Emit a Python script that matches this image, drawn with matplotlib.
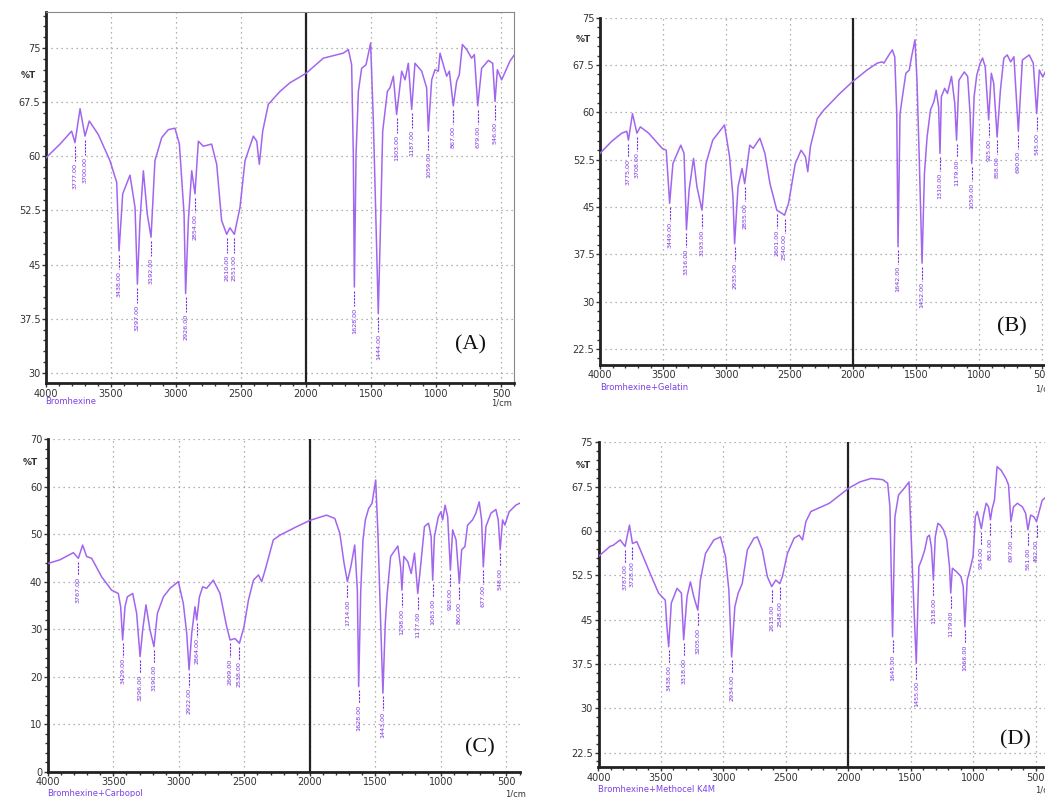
import numpy as np
import matplotlib.pyplot as plt
from matplotlib.ticker import MultipleLocator

# ---- data (wavenumber 1/cm, %T) ----
wn_a = [4000, 3892, 3803, 3777, 3738, 3700, 3667, 3597, 3508, 3456, 3438, 3410, 3354, 3315, 3297, 3277,
        3251, 3221, 3192, 3162, 3110, 3059, 3008, 2974, 2938, 2926, 2905, 2879, 2854, 2828, 2790, 2726,
        2687, 2649, 2610, 2585, 2551, 2508, 2469, 2405, 2379, 2359, 2333, 2290, 2200, 2123, 2000, 1867,
        1713, 1674, 1649, 1636, 1628, 1615, 1597, 1572, 1538, 1503, 1482, 1462, 1444, 1426, 1410, 1374,
        1354, 1328, 1303, 1264, 1238, 1213, 1187, 1162, 1110, 1072, 1059, 1033, 1008, 982, 969, 944,
        918, 897, 867, 841, 821, 797, 764, 726, 705, 679, 649, 597, 564, 546, 528, 495, 431, 400]
t_a = [59.8, 61.7, 63.5, 61.9, 66.6, 62.8, 64.9, 63.0, 59.4, 56.4, 46.9, 54.8, 57.4, 52.9, 42.3, 51.1,
       58.0, 52.0, 48.8, 59.4, 62.6, 63.7, 63.9, 61.7, 52.0, 41.0, 51.1, 58.0, 54.8, 62.1, 61.4, 61.7,
       58.9, 51.1, 49.2, 50.1, 49.2, 52.9, 59.4, 62.8, 62.1, 58.9, 63.5, 67.2, 69.0, 70.2, 71.5, 73.6,
       74.3, 74.8, 72.7, 60.3, 41.9, 60.3, 69.0, 72.2, 72.7, 75.7, 64.9, 51.1, 38.2, 51.1, 63.5, 69.0,
       69.5, 71.1, 65.8, 71.8, 70.6, 72.9, 66.5, 72.9, 71.8, 69.5, 63.5, 70.6, 72.0, 71.8, 74.3, 72.7,
       71.1, 71.8, 67.0, 70.4, 71.3, 75.5, 74.8, 73.6, 74.1, 67.0, 72.2, 73.3, 72.9, 67.6, 72.0, 70.6, 73.2, 74.0]
peaks_a = [3777, 3700, 3438, 3297, 3192, 2926, 2854, 2610, 2551, 1628, 1444, 1303, 1187, 1059, 867, 679, 546]

wn_b = [4000, 3908, 3828, 3788, 3775, 3743, 3708, 3681, 3615, 3508, 3476, 3449, 3423, 3361, 3335, 3316,
        3295, 3260, 3233, 3193, 3161, 3108, 3015, 2975, 2948, 2935, 2908, 2876, 2855, 2815, 2788, 2735,
        2695, 2655, 2601, 2561, 2540, 2508, 2455, 2409, 2375, 2356, 2335, 2281, 2228, 2102, 2000, 1888,
        1807, 1767, 1754, 1714, 1687, 1668, 1652, 1642, 1626, 1607, 1580, 1553, 1535, 1508, 1492, 1473,
        1452, 1433, 1412, 1385, 1358, 1340, 1321, 1310, 1299, 1273, 1251, 1219, 1193, 1179, 1160, 1118,
        1091, 1072, 1059, 1040, 1019, 992, 973, 952, 925, 904, 885, 858, 832, 805, 778, 751, 725, 690,
        658, 604, 572, 545, 524, 497, 457, 400]
t_b = [53.5, 55.4, 56.7, 57.0, 55.6, 59.8, 56.7, 57.7, 56.7, 54.3, 54.0, 45.6, 51.9, 54.8, 53.5, 41.4,
       47.7, 52.7, 48.2, 44.5, 51.9, 55.6, 58.0, 53.0, 46.6, 39.2, 48.2, 51.1, 48.7, 54.8, 54.3, 55.9,
       53.5, 48.7, 44.5, 44.0, 43.7, 45.6, 51.9, 54.0, 53.0, 50.6, 54.6, 59.0, 60.4, 63.0, 64.9, 66.7,
       67.8, 68.0, 67.8, 69.1, 69.9, 68.8, 59.8, 38.7, 59.8, 62.5, 66.2, 66.7, 68.8, 71.5, 65.1, 51.9,
       36.1, 50.3, 56.1, 60.4, 61.7, 63.5, 60.9, 53.5, 62.5, 63.8, 63.0, 65.7, 61.4, 55.6, 65.1, 66.4,
       65.7, 59.8, 51.9, 62.5, 65.9, 67.8, 68.6, 67.2, 58.8, 66.2, 64.6, 56.1, 63.5, 68.6, 69.1, 68.0, 68.8, 57.0,
       68.3, 69.1, 67.8, 59.8, 66.7, 65.6, 67.2, 68.0]
peaks_b = [3775, 3708, 3449, 3316, 3193, 2935, 2855, 2601, 2540, 1642, 1452, 1310, 1179, 1059, 925, 858, 690, 545]

wn_c = [4000, 3907, 3805, 3767, 3734, 3704, 3665, 3589, 3513, 3462, 3444, 3429, 3411, 3393, 3352, 3322,
        3296, 3276, 3251, 3220, 3190, 3164, 3118, 3067, 3004, 2966, 2940, 2922, 2902, 2877, 2864, 2843,
        2818, 2788, 2737, 2686, 2635, 2609, 2571, 2538, 2503, 2469, 2431, 2393, 2368, 2342, 2279, 2228,
        2114, 2000, 1873, 1810, 1772, 1739, 1714, 1688, 1658, 1638, 1628, 1612, 1595, 1577, 1552, 1526,
        1498, 1481, 1460, 1443, 1425, 1410, 1384, 1359, 1329, 1308, 1298, 1283, 1253, 1227, 1202, 1177,
        1156, 1126, 1095, 1075, 1063, 1050, 1020, 1000, 987, 969, 949, 928, 911, 885, 860, 842, 817, 797,
        759, 734, 708, 690, 677, 657, 619, 581, 563, 548, 530, 513, 480, 429, 400]
t_c = [43.8, 44.6, 46.1, 44.9, 47.7, 45.3, 44.9, 41.0, 38.2, 37.5, 34.7, 27.7, 34.7, 36.8, 37.5, 33.3,
       24.2, 29.8, 35.1, 29.8, 26.3, 33.3, 36.8, 38.6, 40.0, 35.4, 29.1, 21.4, 29.1, 34.7, 31.9, 36.8,
       38.9, 38.6, 40.3, 37.5, 30.5, 27.7, 28.0, 27.0, 30.5, 36.1, 40.3, 41.4, 40.0, 42.4, 48.8, 49.8,
       51.4, 52.9, 54.0, 53.3, 50.2, 43.8, 40.0, 43.1, 47.7, 38.2, 17.9, 38.2, 48.8, 53.0, 55.4, 56.5,
       61.4, 50.2, 31.2, 16.5, 31.2, 37.5, 45.3, 46.3, 47.5, 43.1, 38.2, 45.3, 44.2, 41.7, 46.0, 37.5,
       43.1, 51.6, 52.3, 49.5, 40.3, 49.5, 53.7, 54.7, 53.0, 56.1, 53.7, 42.4, 50.9, 48.8, 39.6, 46.7, 47.4, 51.9,
       53.0, 54.4, 56.8, 53.0, 43.1, 51.6, 54.4, 55.2, 53.0, 46.7, 53.0, 51.9, 54.7, 56.1, 56.5]
peaks_c = [3767, 3429, 3296, 3190, 2922, 2864, 2609, 2538, 1714, 1628, 1443, 1298, 1177, 1063, 928, 860, 677, 548]

wn_d = [4000, 3908, 3881, 3827, 3787, 3752, 3728, 3693, 3653, 3586, 3519, 3465, 3452, 3438, 3417, 3371,
        3336, 3318, 3291, 3264, 3237, 3205, 3184, 3143, 3076, 3023, 2983, 2956, 2934, 2908, 2881, 2849,
        2808, 2755, 2728, 2688, 2648, 2613, 2580, 2548, 2527, 2487, 2433, 2393, 2366, 2339, 2299, 2151,
        2066, 2000, 1908, 1816, 1724, 1684, 1666, 1645, 1626, 1597, 1553, 1513, 1500, 1474, 1455, 1434,
        1413, 1387, 1366, 1350, 1334, 1318, 1303, 1282, 1263, 1237, 1211, 1189, 1179, 1166, 1132, 1097,
        1079, 1066, 1047, 1026, 1000, 982, 966, 947, 934, 916, 895, 876, 861, 847, 829, 808, 776, 737,
        716, 697, 676, 645, 605, 579, 561, 539, 513, 492, 447, 400]
t_d = [55.7, 57.4, 57.6, 58.5, 57.4, 61.0, 57.9, 58.2, 56.2, 52.8, 49.5, 48.3, 43.8, 40.4, 47.8, 50.3,
       49.5, 41.6, 48.9, 51.4, 48.9, 46.6, 51.7, 56.2, 58.5, 59.0, 55.7, 50.0, 38.7, 47.2, 49.5, 51.1,
       56.8, 58.8, 59.0, 56.8, 52.3, 50.6, 51.7, 51.1, 52.3, 56.2, 58.8, 59.3, 58.5, 61.6, 63.3, 64.7,
       66.1, 67.2, 68.3, 68.9, 68.7, 68.1, 64.1, 42.1, 62.4, 66.1, 67.2, 68.3, 61.3, 47.2, 37.6, 54.0,
       55.1, 56.8, 59.0, 59.3, 57.3, 51.7, 59.0, 61.3, 61.0, 60.2, 58.5, 54.0, 49.5, 53.7, 53.1, 52.3,
       50.6, 43.8, 51.7, 53.4, 55.7, 62.4, 63.3, 61.6, 60.4, 62.7, 64.7, 64.1, 61.9, 63.8, 65.2, 70.9, 70.3, 68.9,
       67.8, 61.6, 64.1, 64.7, 64.1, 63.0, 60.2, 62.7, 62.4, 61.6, 65.2, 66.0]
peaks_d = [3787, 3728, 3438, 3318, 3205, 2934, 2613, 2548, 1645, 1455, 1318, 1179, 1066, 934, 861, 697, 561, 492]

names = ["Bromhexine", "Bromhexine+Gelatin", "Bromhexine+Carbopol", "Bromhexine+Methocel K4M"]
tags = ["(A)", "(B)", "(C)", "(D)"]

W, H = 1045, 797
fig = plt.figure(figsize=(W / 100, H / 100), dpi=100, facecolor="white")


def px(x, y):
    return x / W, 1 - y / H


def box(x0, y0, x1, y1):
    return [x0 / W, 1 - y1 / H, (x1 - x0) / W, (y1 - y0) / H]


line_col = "#a266ee"
lab_col = "#7a2ee0"

panels = [
    dict(wn=wn_a, t=t_a, pk=peaks_a, rect=box(46, 12, 514, 383), ylim=(28.6, 80),
         yt=[30, 37.5, 45, 52.5, 60, 67.5, 75], ymin=1.5, pT=(28, 76), name=(45, 402),
         cm=(491, 403), tag=(470, 345), frame=True),
    dict(wn=wn_b, t=t_b, pk=peaks_b, rect=box(600, 17.7, 1055, 364.8), ylim=(20, 75),
         yt=[22.5, 30, 37.5, 45, 52.5, 60, 67.5, 75], ymin=1.5, pT=(583, 40), name=(600, 388),
         cm=(1035, 389), tag=(1012, 327), frame=False),
    dict(wn=wn_c, t=t_c, pk=peaks_c, rect=box(47.8, 439.2, 519.6, 771.5), ylim=(0, 70),
         yt=[0, 10, 20, 30, 40, 50, 60, 70], ymin=2, pT=(30, 463), name=(47, 793),
         cm=(505, 794), tag=(480, 748), frame=False),
    dict(wn=wn_d, t=t_d, pk=peaks_d, rect=box(598.5, 442.4, 1048, 767.4), ylim=(20, 75),
         yt=[22.5, 30, 37.5, 45, 52.5, 60, 67.5, 75], ymin=1.5, pT=(583, 465), name=(598, 789),
         cm=(1035, 790), tag=(1015, 740), frame=False),
]

for p, name, tag in zip(panels, names, tags):
    ax = fig.add_axes(p["rect"])
    ax.set_xlim(4000, 400)
    ax.set_ylim(*p["ylim"])
    ax.plot(p["wn"], p["t"], color=line_col, lw=1.1, zorder=3)
    ax.axvline(2000, color="#222222", lw=1.6, zorder=2)

    # peak labels below each marked band
    span = p["ylim"][1] - p["ylim"][0]
    for v in p["pk"]:
        tv = np.interp(v, p["wn"][::-1], p["t"][::-1])
        ax.plot([v, v], [tv - 0.01 * span, tv - 0.05 * span], color=lab_col, lw=0.8,
                ls=(0, (2, 1)), zorder=4)
        ax.text(v, tv - 0.055 * span, f"{v:.2f}", rotation=90, ha="center", va="top",
                fontsize=4.6, color=lab_col, zorder=4)

    ax.set_xticks([4000, 3500, 3000, 2500, 2000, 1500, 1000, 500])
    ax.xaxis.set_minor_locator(MultipleLocator(100))
    ax.set_yticks(p["yt"])
    ax.set_yticklabels([f"{v:g}" for v in p["yt"]])
    ax.yaxis.set_minor_locator(MultipleLocator(p["ymin"]))
    ax.grid(which="major", ls=(0, (1, 3)), color="#9a9a9a", lw=0.9)
    ax.tick_params(which="major", length=3, width=1, labelsize=7, colors="#333333", pad=1)
    ax.tick_params(which="minor", length=2, width=1, color="#333333")
    for s in ["left", "bottom"]:
        ax.spines[s].set_linewidth(2)
        ax.spines[s].set_color("#222222")
    for s in ["top", "right"]:
        ax.spines[s].set_visible(p["frame"])
        ax.spines[s].set_color("#888888")

    fig.text(*px(*p["pT"]), "%T", fontsize=6.5, fontweight="bold", color="#333333",
             ha="center", va="center")
    fig.text(*px(*p["name"]), name, fontsize=6, color="#7a40e6", ha="left", va="center")
    fig.text(*px(*p["cm"]), "1/cm", fontsize=6, color="#333333", ha="left", va="center")
    fig.text(*px(*p["tag"]), tag, fontsize=16, family="Liberation Serif", color="#111111",
             ha="center", va="center")

fig.savefig("out.png", dpi=100, facecolor="white")
